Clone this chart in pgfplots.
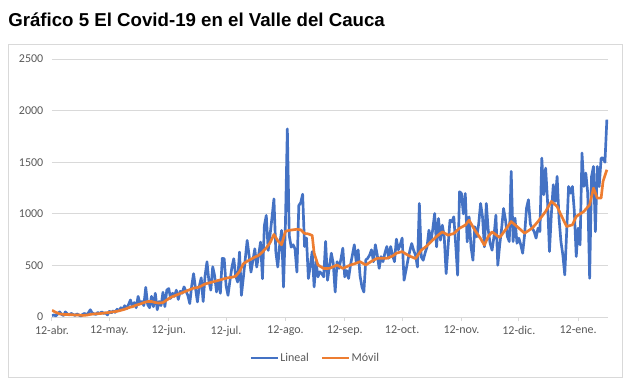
\documentclass[border=0pt]{standalone}
\usepackage{pgfplots}
\pgfplotsset{compat=1.18}
\usepackage{pgfplotstable}
\usepackage{fontspec}
\setmainfont{Carlito}
\newfontfamily\titlefont{Liberation Sans}
\definecolor{serblue}{HTML}{4472C4}
\definecolor{serorange}{HTML}{ED7D31}
\definecolor{gridgray}{HTML}{D9D9D9}
\definecolor{txtgray}{HTML}{595959}
\pgfplotstableread{
d v
0 13
1 20
2 10
3 30
4 50
5 25
6 15
7 50
8 30
9 20
10 35
11 25
12 15
13 30
14 20
15 10
16 25
17 35
18 20
19 40
20 70
21 40
22 30
23 25
24 45
25 30
26 50
27 35
28 40
29 20
30 55
31 40
32 60
33 45
34 75
35 60
36 90
37 70
38 110
39 80
40 120
41 165
42 100
43 140
44 90
45 200
46 130
47 150
48 110
49 287
50 120
51 90
52 200
53 100
54 230
55 70
56 150
57 110
58 240
59 100
60 260
61 276
62 180
63 230
64 200
65 260
66 170
67 250
68 230
69 292
70 250
71 210
72 130
73 300
74 420
75 280
76 146
77 300
78 380
79 150
80 400
81 535
82 350
83 260
84 487
85 400
86 243
87 350
88 230
89 568
90 565
91 300
92 210
93 350
94 480
95 565
96 400
97 339
98 629
99 210
100 380
101 560
102 742
103 600
104 435
105 550
106 661
107 484
108 600
109 726
110 371
111 887
112 984
113 645
114 800
115 968
116 1145
117 629
118 484
119 700
120 839
121 290
122 900
123 1823
124 790
125 677
126 700
127 661
128 435
129 1080
130 1108
131 1190
132 683
133 765
134 373
135 500
136 634
137 291
138 536
139 389
140 438
141 420
142 389
143 732
144 356
145 487
146 618
147 520
148 242
149 536
150 471
151 560
152 667
153 389
154 450
155 373
156 504
157 600
158 700
159 536
160 651
161 400
162 291
163 242
164 553
165 569
166 600
167 651
168 536
169 700
170 600
171 471
172 585
173 536
174 620
175 683
176 569
177 683
178 600
179 536
180 755
181 651
182 700
183 765
184 356
185 450
186 550
187 640
188 712
189 647
190 600
191 485
192 1100
193 582
194 550
195 620
196 680
197 841
198 728
199 850
200 1003
201 680
202 955
203 744
204 890
205 777
206 421
207 680
208 938
209 922
210 971
211 700
212 405
213 1214
214 1197
215 1000
216 1197
217 728
218 971
219 680
220 550
221 874
222 777
223 900
224 1100
225 971
226 680
227 1100
228 841
229 712
230 647
231 780
232 987
233 502
234 700
235 858
236 1052
237 942
238 780
239 731
240 1411
241 731
242 958
243 715
244 764
245 700
246 618
247 796
248 1055
249 1136
250 900
251 861
252 828
253 764
254 861
255 828
256 1540
257 1184
258 1443
259 1120
260 634
261 1000
262 1281
263 1120
264 1362
265 958
266 731
267 600
268 408
269 828
270 1265
271 1200
272 1265
273 1023
274 586
275 861
276 699
277 1589
278 1265
279 1395
280 1200
281 375
282 1362
283 1459
284 828
285 1459
286 1265
287 1540
288 1540
289 1500
290 1912
}\lineal
\pgfplotstableread{
d v
0 65
2 45
4 30
6 25
8 25
10 22
12 20
14 20
16 15
18 18
20 25
22 30
24 32
26 35
28 40
30 45
32 50
34 55
36 65
38 75
40 90
42 100
44 115
46 125
48 140
50 150
52 150
54 140
56 135
58 140
60 165
62 190
64 205
66 220
68 235
70 250
72 265
74 280
76 285
78 300
80 320
82 330
84 340
86 350
88 360
90 371
92 380
94 385
96 395
98 440
100 516
102 540
104 560
106 580
108 597
110 630
112 670
114 720
116 800
118 740
120 700
122 830
124 840
126 845
128 850
130 845
132 810
134 805
136 790
137 620
139 504
142 470
145 471
149 504
152 471
156 504
158 515
161 536
164 504
167 540
170 569
175 569
178 590
180 618
183 634
185 610
187 590
190 566
193 647
196 690
198 728
201 780
204 825
207 793
210 809
213 860
216 890
218 938
221 841
224 760
226 696
228 780
230 825
234 770
237 845
240 925
244 861
247 812
251 861
254 925
258 1023
261 1120
264 1071
266 990
269 877
272 893
274 974
278 1023
281 1087
283 1249
285 1152
287 1152
288 1314
290 1427
}\movil
\begin{document}
\begin{tikzpicture}
\path[use as bounding box] (0,0) rectangle (473.25pt,288.75pt);
\draw[gridgray, line width=0.75pt] (6pt,5.25pt) rectangle (466.5pt,255pt);
\node[anchor=base west, inner sep=0pt, font=\titlefont\bfseries\fontsize{14pt}{16pt}\selectfont] at (6pt,268.5pt) {Gráfico 5 El Covid-19 en el Valle del Cauca};
\begin{axis}[
  at={(39pt,51pt)}, anchor=south west,
  scale only axis, width=417pt, height=193.5pt,
  xmin=0, xmax=290.6, ymin=0, ymax=2500,
  xtick={0,30,61,91,122,153,183,214,244,275},
  xticklabels={12-abr.,12-may.,12-jun.,12-jul.,12-ago.,12-sep.,12-oct.,12-nov.,12-dic.,12-ene.},
  ytick={0,500,1000,1500,2000,2500},
  ymajorgrids, grid style={gridgray, line width=0.75pt},
  axis line style={draw=none},
  tick align=outside, major tick length=3pt,
  x tick style={gridgray, line width=0.75pt},
  y tick style={draw=none},
  xtick pos=bottom, ytick pos=left,
  ticklabel style={font=\fontsize{9pt}{10pt}\selectfont, text=txtgray},
  /pgf/number format/assume math mode=true,
  /pgf/number format/1000 sep={},
  legend style={at={(0.473,-0.159)}, anchor=center, draw=none, fill=none,
    font=\fontsize{9pt}{10pt}\selectfont, text=txtgray,
    nodes={inner xsep=1pt},
    /tikz/every even column/.append style={column sep=8pt}},
  legend columns=2,
  legend image code/.code={\draw[#1, line width=2pt] (0pt,0pt) -- (20pt,0pt);},
]
\addplot[serblue, line width=2pt, line join=round, no markers] table[x=d, y=v] {\lineal};
\addlegendentry{Lineal}
\addplot[serorange, line width=2pt, line join=round, no markers] table[x=d, y=v] {\movil};
\addlegendentry{Móvil}
\end{axis}
\end{tikzpicture}
\end{document}
